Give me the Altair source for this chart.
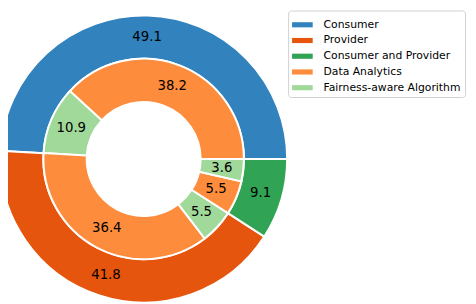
import math
import altair as alt
import pandas as pd

categories = ["Consumer", "Provider", "Consumer and Provider",
              "Data Analytics", "Fairness-aware Algorithm"]
colors = ["#3182bd", "#e6550d", "#31a354", "#fd8d3c", "#a1d99b"]

outer_cats = ["Consumer", "Provider", "Consumer and Provider"]
outer_vals = [49.1, 41.8, 9.1]

inner_cats = ["Data Analytics", "Fairness-aware Algorithm", "Data Analytics",
              "Fairness-aware Algorithm", "Data Analytics", "Fairness-aware Algorithm"]
inner_vals = [38.2, 10.9, 36.4, 5.5, 5.5, 3.6]

outer_df = pd.DataFrame({"cat": outer_cats, "val": outer_vals,
                         "ord": list(range(len(outer_vals)))})
inner_df = pd.DataFrame({"cat": inner_cats, "val": inner_vals,
                         "ord": list(range(len(inner_vals)))})

CX, CY = 138, 151
R_OUT, R_MID, R_IN = 146, 102, 58

theta_scale = alt.Scale(range=[math.pi / 2, math.pi / 2 + 2 * math.pi], zero=True, nice=False)

legend = alt.Legend(
    orient="none", legendX=285, legendY=0, title=None,
    symbolType="M-1,-0.25H1V0.25H-1Z", symbolSize=441, symbolStrokeWidth=0,
    symbolOpacity=1, labelFontSize=11, labelFont="DejaVu Sans", labelColor="black",
    strokeColor="#d0d0d0", cornerRadius=3, padding=4, rowPadding=0,
    labelLimit=300, fillColor="white", labelOffset=11,
)
color_enc = alt.Color("cat:N", scale=alt.Scale(domain=categories, range=colors), legend=legend)


def ring(df, r1, r2, rlab):
    base = alt.Chart(df).encode(
        theta=alt.Theta("val:Q", stack=True, scale=theta_scale),
        order=alt.Order("ord:Q", sort="descending"),
        x=alt.value(CX), y=alt.value(CY),
    )
    arc = base.mark_arc(radius=r1, radius2=r2, stroke="white", strokeWidth=2).encode(color=color_enc)
    txt = base.mark_text(radius=rlab, fontSize=13.5, font="DejaVu Sans", color="black").encode(
        text=alt.Text("val:Q", format=".1f"), detail="cat:N"
    )
    return arc, txt


oa, ot = ring(outer_df, R_OUT, R_MID, 124)
ia, it = ring(inner_df, R_MID, R_IN, 80)

chart = alt.layer(oa, ia, ot, it).resolve_scale(theta="independent").properties(
    width=468, height=296, padding=0, autosize=alt.AutoSizeParams(type="none")
).configure_view(stroke=None)

chart.save("out.html", embed_options={"renderer": "svg", "actions": False})
